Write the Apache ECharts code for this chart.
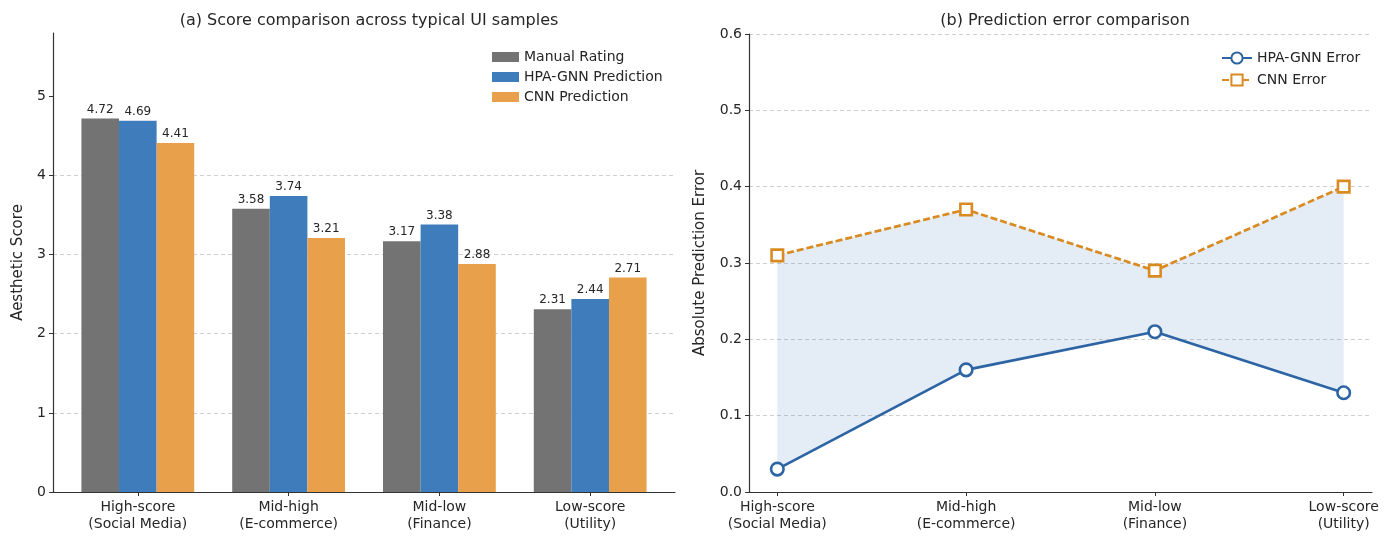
<!DOCTYPE html>
<html>
<head>
<meta charset="utf-8">
<script src="https://cdn.jsdelivr.net/npm/echarts@6/dist/echarts.min.js"></script>
<style>html,body{margin:0;padding:0;background:#fff}#c{width:1395px;height:538px}</style>
</head>
<body>
<div id="c"></div>
<script>
// ---- data ----
const categories = ['High-score\n(Social Media)', 'Mid-high\n(E-commerce)', 'Mid-low\n(Finance)', 'Low-score\n(Utility)'];
const manualRating = [4.72, 3.58, 3.17, 2.31];
const hpaPrediction = [4.69, 3.74, 3.38, 2.44];
const cnnPrediction = [4.41, 3.21, 2.88, 2.71];
const hpaError = [0.03, 0.16, 0.21, 0.13];
const cnnError = [0.31, 0.37, 0.29, 0.40];
const scoreTicks = [0, 1, 2, 3, 4, 5];
const errorTicks = [0, 0.1, 0.2, 0.3, 0.4, 0.5, 0.6];

const FONT = 'DejaVu Sans';
const TXT = '#262626';
const AX = '#333333';
const catIdx = categories.map((_, i) => i);
const pairs = arr => arr.map((v, i) => [i, v]);

const chart = echarts.init(document.getElementById('c'), null, {renderer: 'canvas'});

const xAxisCommon = {
  type: 'value',
  splitLine: {show: false},
  axisLine: {show: true, onZero: false, lineStyle: {color: AX, width: 1.2}},
  axisTick: {show: true, customValues: catIdx, length: 4, lineStyle: {color: AX, width: 1}},
  axisLabel: {customValues: catIdx, formatter: v => categories[Math.round(v)], color: TXT, fontFamily: FONT, fontSize: 14, lineHeight: 17, margin: 7}
};

const barLabel = {show: true, position: 'top', distance: 3, fontFamily: FONT, fontSize: 12, color: TXT, formatter: p => p.value[1].toFixed(2)};

// right plot: x from -0.15 to 3.15 over 749..1372 px; band grid spans tick 0..3
const rLeft = 749, rRight = 1372, rMin = -0.15, rMax = 3.15;
const unit = (rRight - rLeft) / (rMax - rMin);
const bandLeft = rLeft + (0 - rMin) * unit;
const bandRight = 1395 - (rLeft + (3 - rMin) * unit);

const option = {
  animation: false,
  backgroundColor: '#fff',
  textStyle: {fontFamily: FONT},
  title: [
    {text: '(a) Score comparison across typical UI samples', left: 364, top: 8, textAlign: 'center', textStyle: {fontFamily: FONT, fontSize: 16, fontWeight: 'normal', color: TXT}},
    {text: '(b) Prediction error comparison', left: 1060, top: 8, textAlign: 'center', textStyle: {fontFamily: FONT, fontSize: 16, fontWeight: 'normal', color: TXT}}
  ],
  legend: [
    {data: ['Manual Rating', 'HPA-GNN Prediction', 'CNN Prediction'], orient: 'vertical', left: 487, top: 44, icon: 'rect', itemWidth: 27, itemHeight: 10, itemGap: 4, textStyle: {fontFamily: FONT, fontSize: 14, color: TXT, lineHeight: 16}},
    {data: ['HPA-GNN Error', 'CNN Error'], orient: 'vertical', left: 1216, top: 45, itemWidth: 30, itemHeight: 14, itemGap: 6, textStyle: {fontFamily: FONT, fontSize: 14, color: TXT, lineHeight: 16}}
  ],
  grid: [
    {left: 53, right: 720, top: 33, bottom: 46},
    {left: rLeft, right: 1395 - rRight, top: 34, bottom: 46},
    {left: bandLeft, right: bandRight, top: 34, bottom: 46}
  ],
  xAxis: [
    Object.assign({gridIndex: 0, min: -0.5625, max: 3.5625}, xAxisCommon),
    Object.assign({gridIndex: 1, min: rMin, max: rMax}, xAxisCommon),
    {gridIndex: 2, type: 'category', boundaryGap: false, data: categories, show: false}
  ],
  yAxis: [
    {gridIndex: 0, type: 'value', min: 0, max: 5.8, interval: 1,
     name: 'Aesthetic Score', nameLocation: 'middle', nameGap: 27, nameTextStyle: {fontFamily: FONT, fontSize: 15, color: TXT},
     axisLine: {show: true, onZero: false, lineStyle: {color: AX, width: 1.2}},
     axisTick: {show: true, customValues: scoreTicks, length: 4, lineStyle: {color: AX}},
     axisLabel: {customValues: scoreTicks, color: TXT, fontFamily: FONT, fontSize: 14, margin: 7},
     splitLine: {show: true, showMinLine: false, showMaxLine: false, lineStyle: {color: '#cfcfcf', type: [4, 3], width: 1}}},
    {gridIndex: 1, type: 'value', min: 0, max: 0.6, interval: 0.1,
     name: 'Absolute Prediction Error', nameLocation: 'middle', nameGap: 41, nameTextStyle: {fontFamily: FONT, fontSize: 15, color: TXT},
     axisLine: {show: true, onZero: false, lineStyle: {color: AX, width: 1.2}},
     axisTick: {show: true, length: 4, lineStyle: {color: AX}},
     axisLabel: {color: TXT, fontFamily: FONT, fontSize: 14, margin: 7, formatter: v => v.toFixed(1)},
     splitLine: {show: true, showMinLine: false, lineStyle: {color: '#cfcfcf', type: [4, 3], width: 1}}},
    {gridIndex: 2, type: 'value', min: 0, max: 0.6, show: false, splitLine: {show: false}}
  ],
  series: [
    {name: 'Manual Rating', type: 'bar', xAxisIndex: 0, yAxisIndex: 0, data: pairs(manualRating), barWidth: 37.6, barGap: '0%', itemStyle: {color: '#737373'}, label: barLabel},
    {name: 'HPA-GNN Prediction', type: 'bar', xAxisIndex: 0, yAxisIndex: 0, data: pairs(hpaPrediction), barWidth: 37.6, barGap: '0%', itemStyle: {color: '#3f7cbb'}, label: barLabel},
    {name: 'CNN Prediction', type: 'bar', xAxisIndex: 0, yAxisIndex: 0, data: pairs(cnnPrediction), barWidth: 37.6, barGap: '0%', itemStyle: {color: '#e8a04b'}, label: barLabel},
    // band between the two error lines (stacked on a hidden category axis aligned with ticks)
    {name: 'bandBase', type: 'line', xAxisIndex: 2, yAxisIndex: 2, stack: 'band', data: hpaError, symbol: 'none', lineStyle: {opacity: 0}, silent: true, z: 1},
    {name: 'bandFill', type: 'line', xAxisIndex: 2, yAxisIndex: 2, stack: 'band', data: cnnError.map((v, i) => +(v - hpaError[i]).toFixed(4)), symbol: 'none', lineStyle: {opacity: 0}, areaStyle: {color: 'rgba(55,115,180,0.19)'}, silent: true, z: 1},
    {name: 'HPA-GNN Error', type: 'line', xAxisIndex: 1, yAxisIndex: 1, data: pairs(hpaError), symbol: 'circle', symbolSize: 12.5,
     lineStyle: {color: '#2c64a4', width: 2.7}, itemStyle: {color: '#ffffff', borderColor: '#2c64a4', borderWidth: 2.6}, z: 3},
    {name: 'CNN Error', type: 'line', xAxisIndex: 1, yAxisIndex: 1, data: pairs(cnnError), symbol: 'rect', symbolSize: 11.5,
     lineStyle: {color: '#d98b22', width: 2.7, type: [7, 3]}, itemStyle: {color: '#ffffff', borderColor: '#d98b22', borderWidth: 2.6}, z: 3}
  ]
};
chart.setOption(option);
</script>
</body>
</html>
